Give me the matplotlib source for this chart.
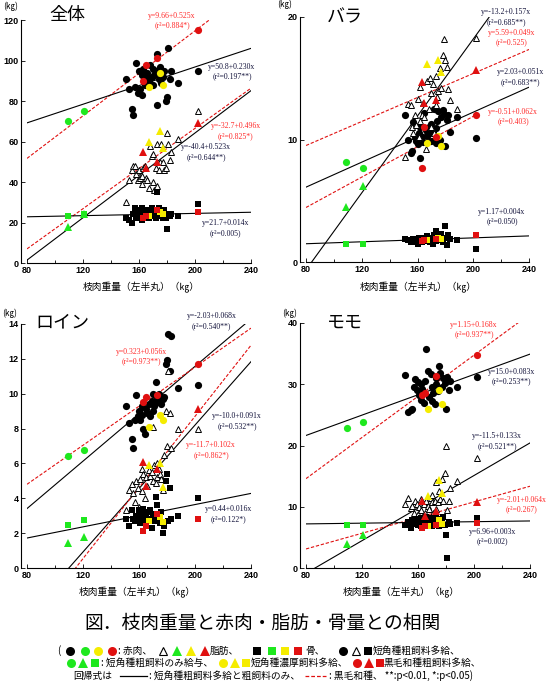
import matplotlib.pyplot as plt

plt.rcParams["font.family"] = ["Noto Sans CJK JP", "DejaVu Sans"]

W, H = 551, 686

# carcass weight (left half), kg -- same animals in every panel
black_x = [151, 153, 155, 156, 157, 158, 159, 160, 161, 162, 162, 163,
           164, 165, 166, 167, 168, 169, 170, 170, 171, 172, 173, 173,
           174, 175, 176, 177, 178, 179, 180, 181, 182, 183, 188, 202]
green_x = [109, 121]
yellow_x = [167, 175, 177]
red_x = [163, 165, 173, 202]

# 全体
whole_lean_black = [91, 86, 76, 73, 87, 99, 84, 95, 86, 83, 93, 96,
                    88, 92, 94, 90, 98, 92, 96, 88, 93, 95, 78, 103,
                    91, 97, 89, 92, 95, 80, 82, 106, 91, 95, 89, 95]
whole_fat_black = [30, 41, 46, 48, 48, 44, 41, 46, 42, 43, 39, 47,
                   48, 42, 41, 37, 58, 53, 54, 40, 36, 47, 59, 38,
                   46, 50, 59, 50, 46, 47, 64, 59, 51, 55, 61, 75]
whole_bone_black = [22, 21, 20, 24, 27, 22, 25, 23, 26, 21, 27, 23,
                    25, 24, 26, 22, 25, 27, 23, 24, 26, 22, 35, 24,
                    27, 23, 25, 22, 26, 22, 17, 24, 23, 24, 23, 29]
whole_lean_green, whole_fat_green, whole_bone_green = [70, 75], [18, 24], [23, 24]
whole_lean_yellow, whole_fat_yellow, whole_bone_yellow = [87, 94, 88], [60, 65, 57], [23, 25, 24]
whole_lean_red, whole_fat_red, whole_bone_red = [90, 98, 101, 115], [55, 47, 50, 69], [22, 23, 26, 25]

# バラ
bara_lean_black = [12.0, 10.0, 8.9, 9.1, 11.4, 10.2, 9.9, 9.6, 10.5, 8.5, 11.0, 10.2,
                   9.8, 12.2, 10.8, 10.3, 11.0, 10.5, 9.9, 11.3, 10.6, 12.5, 10.9, 9.7,
                   11.5, 12.3, 10.0, 11.8, 12.4, 12.1, 9.5, 11.6, 12.0, 10.6, 11.8, 10.1]
bara_fat_black = [8.6, 12.9, 12.8, 11.0, 10.5, 12.0, 11.2, 13.3, 10.2, 11.5, 14.3, 12.0,
                  13.0, 11.8, 9.2, 14.8, 12.5, 15.0, 11.0, 13.8, 14.5, 10.5, 12.8, 15.2,
                  13.5, 14.0, 15.8, 14.2, 16.9, 18.2, 16.5, 15.9, 14.1, 13.2, 12.5, 18.3]
bara_bone_black = [1.9, 1.8, 1.6, 1.7, 1.9, 1.6, 1.8, 1.5, 2.0, 1.7, 1.9, 1.6,
                   2.0, 1.8, 1.7, 2.1, 1.9, 1.6, 2.0, 1.8, 1.5, 2.2, 2.5, 1.7,
                   1.9, 2.1, 1.8, 2.3, 1.6, 2.0, 2.9, 1.4, 2.2, 1.9, 1.8, 1.1]
bara_lean_green, bara_fat_green, bara_bone_green = [8.2, 7.7], [4.5, 6.2], [1.5, 1.45]
bara_lean_yellow, bara_fat_yellow, bara_bone_yellow = [9.7, 10.3, 9.5], [16.2, 16.5, 15.5], [1.8, 2.0, 1.9]
bara_lean_red, bara_fat_red, bara_bone_red = [7.7, 11.0, 10.2, 12.0], [14.7, 13.0, 13.2, 15.7], [1.7, 1.8, 1.9, 2.2]

# ロイン
loin_lean_black = [9.3, 8.3, 7.4, 6.9, 8.5, 9.95, 8.7, 9.0, 8.5, 8.8, 9.3, 8.0,
                   7.7, 9.1, 8.9, 9.4, 8.7, 9.6, 9.0, 10.0, 9.3, 10.7, 9.5, 9.8,
                   10.0, 9.6, 9.4, 9.7, 9.8, 11.7, 11.95, 13.4, 11.3, 13.3, 10.3, 10.5]
loin_fat_black = [3.3, 4.5, 4.8, 4.3, 3.8, 5.0, 4.6, 3.5, 5.1, 5.7, 4.4, 5.4,
                  4.0, 5.2, 4.7, 5.6, 5.3, 5.5, 5.0, 8.1, 5.9, 4.9, 5.2, 6.0,
                  5.7, 5.4, 5.1, 4.5, 6.5, 9.0, 7.0, 11.3, 8.9, 6.9, 8.0, 8.0]
loin_bone_black = [2.8, 2.4, 3.3, 2.8, 2.7, 3.0, 2.9, 3.3, 2.6, 3.1, 2.8, 3.4,
                   2.7, 3.0, 3.2, 2.8, 3.3, 2.3, 2.9, 3.1, 2.7, 4.1, 3.6, 2.9,
                   3.0, 2.6, 3.2, 2.0, 2.4, 5.0, 5.4, 2.7, 4.6, 2.8, 3.0, 4.0]
loin_lean_green, loin_fat_green, loin_bone_green = [6.4, 6.75], [1.45, 1.8], [2.45, 2.75]
loin_lean_yellow, loin_fat_yellow, loin_bone_yellow = [8.1, 8.8, 8.5], [5.9, 6.05, 4.65], [2.7, 2.9, 2.65]
loin_lean_red, loin_fat_red, loin_bone_red = [9.5, 9.8, 9.9, 11.7], [6.1, 4.7, 5.7, 9.1], [2.1, 2.4, 3.1, 2.8]

# モモ
momo_lean_black = [31.5, 25.5, 25.8, 26.0, 29.5, 30.8, 29.0, 30.3, 28.2, 27.5, 30.0, 29.2,
                   27.0, 30.5, 35.8, 32.2, 28.0, 31.7, 27.3, 29.5, 28.5, 26.8, 30.0, 31.0,
                   28.9, 33.0, 31.8, 29.5, 31.0, 30.2, 26.0, 31.2, 29.0, 30.5, 29.6, 31.2]
momo_fat_black = [10.5, 11.5, 9.8, 10.2, 9.0, 11.0, 10.5, 8.8, 10.0, 9.5, 11.2, 8.3,
                  10.5, 9.0, 11.0, 10.2, 9.6, 11.5, 10.8, 12.0, 8.9, 11.0, 14.0, 9.6,
                  10.8, 12.5, 11.3, 14.5, 11.0, 15.5, 20.0, 9.5, 11.0, 13.0, 14.2, 17.9]
momo_bone_black = [7.0, 7.5, 6.5, 7.8, 7.2, 8.0, 7.4, 7.0, 7.6, 8.2, 6.9, 7.3,
                   7.9, 7.1, 8.3, 7.5, 7.0, 8.1, 7.4, 6.8, 7.7, 8.0, 7.2, 8.5,
                   7.6, 6.9, 8.0, 7.3, 8.4, 7.0, 5.4, 1.6, 7.5, 7.2, 7.4, 8.2]
momo_lean_green, momo_fat_green, momo_bone_green = [22.8, 23.9], [4.0, 5.4], [7.0, 7.0]
momo_lean_yellow, momo_fat_yellow, momo_bone_yellow = [26.0, 29.1, 26.7], [11.8, 14.4, 12.2], [6.8, 7.8, 7.2]
momo_lean_red, momo_fat_red, momo_bone_red = [28.3, 28.6, 31.4, 34.8], [11.0, 8.5, 9.3, 10.7], [6.6, 6.9, 7.1, 7.4]

# regression lines: intercept, slope, x end, group, equation, r2
whole_fits = [(9.66, 0.525, 240, "red", "y=9.66+0.525x", "(r²=0.884*)"),
              (50.8, 0.230, 240, "black", "y=50.8+0.230x", "(r²=0.197**)"),
              (-32.7, 0.496, 240, "red", "y=-32.7+0.496x", "(r²=0.825*)"),
              (-40.4, 0.523, 240, "black", "y=-40.4+0.523x", "(r²=0.644**)"),
              (21.7, 0.014, 240, "black", "y=21.7+0.014x", "(r²=0.005)")]
bara_fits = [(-13.2, 0.157, 240, "black", "y=-13.2+0.157x", "(r²=0.685**)"),
             (5.59, 0.049, 240, "red", "y=5.59+0.049x", "(r²=0.525)"),
             (2.03, 0.051, 240, "black", "y=2.03+0.051x", "(r²=0.683**)"),
             (-0.51, 0.062, 203, "red", "y=-0.51+0.062x", "(r²=0.403)"),
             (1.17, 0.004, 240, "black", "y=1.17+0.004x", "(r²=0.050)")]
loin_fits = [(-2.03, 0.068, 240, "black", "y=-2.03+0.068x", "(r²=0.540**)"),
             (0.323, 0.056, 240, "red", "y=0.323+0.056x", "(r²=0.973**)"),
             (-10.0, 0.091, 240, "black", "y=-10.0+0.091x", "(r²=0.532**)"),
             (-11.7, 0.102, 240, "red", "y=-11.7+0.102x", "(r²=0.862*)"),
             (0.44, 0.016, 240, "black", "y=0.44+0.016x", "(r²=0.122*)")]
momo_fits = [(1.15, 0.168, 240, "red", "y=1.15+0.168x", "(r²=0.937**)"),
             (15.0, 0.083, 240, "black", "y=15.0+0.083x", "(r²=0.253**)"),
             (-11.5, 0.133, 240, "black", "y=-11.5+0.133x", "(r²=0.521**)"),
             (-2.01, 0.064, 240, "red", "y=-2.01+0.064x", "(r²=0.267)"),
             (6.96, 0.003, 240, "black", "y=6.96+0.003x", "(r²=0.002)")]

# where each equation label sits (data coords)
whole_label_pos = [(183.6, 119.7), (226.4, 94.6), (229, 65.2), (208, 54.8), (222, 17.3)]
bara_label_pos = [(223.5, 20.0), (227.8, 18.3), (234, 15.1), (228.5, 11.85), (220.6, 3.7)]
loin_label_pos = [(212, 14.17), (162, 12.12), (230, 8.43), (211.4, 6.77), (223.6, 3.1)]
momo_label_pos = [(200, 38.9), (227, 31.3), (216.4, 20.7), (234, 10.4), (213, 5.1)]

BLACK, GREEN, YELLOW, RED = "#000000", "#1ee81e", "#f5ec00", "#e01010"
TXT_BLACK, TXT_RED = "#14143c", "#ff2a2a"
TICK_FONT = dict(family="Liberation Sans", weight="bold", size=6.5)


def px_box(left, top, right, bottom):
    return [left / W, 1 - bottom / H, (right - left) / W, (bottom - top) / H]


def draw_group(ax, x, ys, color, open_tri=False):
    lean, fat, bone = ys
    ms = 5.2
    ax.plot(x, lean, "o", color=color, ms=ms, mew=0, zorder=3)
    if open_tri:
        ax.plot(x, fat, "^", mfc="white", mec="black", mew=0.7, ms=4.6, zorder=3)
    else:
        ax.plot(x, fat, "^", color=color, ms=ms, mew=0, zorder=3)
    ax.plot(x, bone, "s", color=color, ms=4.6, mew=0, zorder=3)


def draw_panel(box, title, ymax, ystep, groups, fits, label_pos):
    ax = fig.add_axes(px_box(*box))
    ax.set_xlim(80, 240)
    ax.set_ylim(0, ymax)
    for side in ["top", "right"]:
        ax.spines[side].set_visible(False)
    ax.spines["left"].set_position(("outward", 4))
    for s in ["left", "bottom"]:
        ax.spines[s].set_linewidth(0.8)
    ax.set_xticks(range(80, 241, 40))
    ax.set_xticks(range(100, 241, 40), minor=True)
    ax.set_yticks(range(0, ymax + 1, ystep))
    ax.tick_params(direction="in", length=3, width=0.6, pad=2)
    ax.tick_params(which="minor", direction="in", length=2, width=0.6)
    for lab in ax.get_xticklabels() + ax.get_yticklabels():
        lab.set_fontproperties(TICK_FONT)

    for a, b, xend, grp, eq, r2 in fits:
        xs = [80, xend]
        if grp == "red":
            ax.plot(xs, [a + b * v for v in xs], color=RED, lw=0.8,
                    dashes=(3, 1.6), zorder=2)
        else:
            ax.plot(xs, [a + b * v for v in xs], color=BLACK, lw=0.8, zorder=2)
    for (a, b, xend, grp, eq, r2), (tx, ty) in zip(fits, label_pos):
        ax.text(tx, ty, eq + "\n" + r2, ha="center", va="center",
                multialignment="center", family="Liberation Serif",
                fontsize=5.6, linespacing=1.25, clip_on=False, zorder=5,
                color=TXT_RED if grp == "red" else TXT_BLACK)

    black_ys, green_ys, yellow_ys, red_ys = groups
    draw_group(ax, black_x, black_ys, BLACK, open_tri=True)
    draw_group(ax, green_x, green_ys, GREEN)
    draw_group(ax, yellow_x, yellow_ys, YELLOW)
    draw_group(ax, red_x, red_ys, RED)
    ax.text(title[1], title[2], title[0], transform=fig.transFigure,
            fontsize=13, ha="center", va="center")
    return ax


fig = plt.figure(figsize=(W / 100, H / 100), dpi=100)


def fx(px):
    return px / W


def fy(py):
    return 1 - py / H


draw_panel((27, 20, 251, 263), ("全体", fx(67), fy(15)), 120, 20,
           [(whole_lean_black, whole_fat_black, whole_bone_black),
            (whole_lean_green, whole_fat_green, whole_bone_green),
            (whole_lean_yellow, whole_fat_yellow, whole_bone_yellow),
            (whole_lean_red, whole_fat_red, whole_bone_red)],
           whole_fits, whole_label_pos)
draw_panel((306, 17, 529, 262), ("バラ", fx(345), fy(17)), 20, 10,
           [(bara_lean_black, bara_fat_black, bara_bone_black),
            (bara_lean_green, bara_fat_green, bara_bone_green),
            (bara_lean_yellow, bara_fat_yellow, bara_bone_yellow),
            (bara_lean_red, bara_fat_red, bara_bone_red)],
           bara_fits, bara_label_pos)
draw_panel((27, 324, 251, 568), ("ロイン", fx(62), fy(322)), 14, 2,
           [(loin_lean_black, loin_fat_black, loin_bone_black),
            (loin_lean_green, loin_fat_green, loin_bone_green),
            (loin_lean_yellow, loin_fat_yellow, loin_bone_yellow),
            (loin_lean_red, loin_fat_red, loin_bone_red)],
           loin_fits, loin_label_pos)
draw_panel((306, 323, 530, 568), ("モモ", fx(345), fy(323)), 40, 10,
           [(momo_lean_black, momo_fat_black, momo_bone_black),
            (momo_lean_green, momo_fat_green, momo_bone_green),
            (momo_lean_yellow, momo_fat_yellow, momo_bone_yellow),
            (momo_lean_red, momo_fat_red, momo_bone_red)],
           momo_fits, momo_label_pos)

# axis unit labels and x labels
for px, py in [(3, 6), (277, 4), (2, 313), (282, 313)]:
    fig.text(fx(px), fy(py), "(㎏)", fontsize=6.5, ha="left", va="center")
for px, py in [(141, 287), (418, 287), (137, 592), (401, 592)]:
    fig.text(fx(px), fy(py), "枝肉重量（左半丸）（㎏）", fontsize=7,
             ha="center", va="center")

fig.text(fx(262), fy(623), "図．枝肉重量と赤肉・脂肪・骨量との相関",
         fontsize=13.5, ha="center", va="center")

# legend block drawn in pixel coordinates
lax = fig.add_axes([0, 0, 1, 1], zorder=-1)
lax.set_xlim(0, W)
lax.set_ylim(H, 0)
lax.axis("off")
LFS = 7


def mk(x, y, marker, color, open_=False):
    if open_:
        lax.plot(x, y, marker, mfc="white", mec="black", mew=0.8, ms=6)
    else:
        lax.plot(x, y, marker, color=color, ms=6.5 if marker != "s" else 6, mew=0)


def tx(x, y, s):
    lax.text(x, y, s, fontsize=LFS, ha="left", va="center")


y1, y2, y3 = 651, 663, 676
tx(57, y1, "(")
for xp, c in zip([70, 85, 98, 112], [BLACK, GREEN, YELLOW, RED]):
    mk(xp, y1, "o", c)
tx(118, y1, ": 赤肉、")
mk(163, y1, "^", None, open_=True)
for xp, c in zip([177, 191, 205], [GREEN, YELLOW, RED]):
    mk(xp, y1, "^", c)
tx(210, y1, "脂肪、")
for xp, c in zip([257, 272, 285, 298], [BLACK, GREEN, YELLOW, RED]):
    mk(xp, y1, "s", c)
tx(305, y1, "骨、")
mk(343, y1, "o", BLACK)
mk(356, y1, "^", None, open_=True)
mk(368, y1, "s", BLACK)
tx(373, y1, "短角種粗飼料多給、")

for xs, c in [((71, 83, 95), GREEN), ((223, 235, 246), YELLOW), ((357, 369, 380), RED)]:
    mk(xs[0], y2, "o", c)
    mk(xs[1], y2, "^", c)
    mk(xs[2], y2, "s", c)
tx(101, y2, ": 短角種粗飼料のみ給与、")
tx(251, y2, "短角種濃厚飼料多給、")
tx(384, y2, "黒毛和種粗飼料多給、")

tx(73, y3, "回帰式は")
lax.plot([120, 147], [y3, y3], color=BLACK, lw=0.9)
tx(149, y3, ": 短角種粗飼料多給と粗飼料のみ、")
lax.plot([305, 328], [y3, y3], color=RED, lw=0.9, dashes=(3, 1.6))
tx(329, y3, ": 黒毛和種、 **:p<0.01, *:p<0.05)")

fig.savefig("out.png", dpi=100)
